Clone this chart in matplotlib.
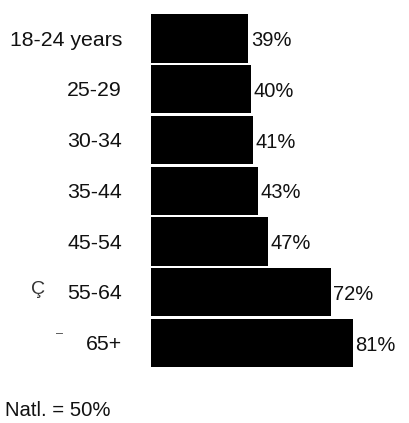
import numpy as np
import matplotlib.pyplot as plt

plt.rcParams['font.family'] = ['Liberation Sans', 'DejaVu Sans']

ages = ['18-24 years', '25-29', '30-34', '35-44', '45-54', '55-64', '65+']
pct = [39, 40, 41, 43, 47, 72, 81]
note = 'Natl. = 50%'

W, H = 409, 423
fig = plt.figure(figsize=(W / 100, H / 100), dpi=100)
# axes from bar baseline to right edge of figure
ax = fig.add_axes([151 / W, 0, 1 - 151 / W, 1])
pxper = 2.494  # pixels per percent
ax.set_xlim(0, (W - 151) / pxper)
pitch = 50.75
ax.set_ylim((H - 38.5) / pitch, -38.5 / pitch)
ax.axis('off')

y = np.arange(len(ages))
ax.barh(y, pct, height=0.946, color='black')
for i, v in enumerate(pct):
    ax.text(v + 2.5 / pxper, i + 0.04, '%d%%' % v, ha='left', va='center',
            fontsize=14.5, color='#111111')
    ax.text(-29 / pxper, i + 0.03, ages[i], ha='right', va='center',
            fontsize=15.3, color='#111111')

fig.text(5 / W, 1 - 410 / H, note, ha='left', va='center', fontsize=14.6,
         color='#111111')
# scan specks next to the last two labels
fig.text(38 / W, 1 - 289 / H, 'Ç', ha='center', va='center', fontsize=14,
         color='#333333')
fig.text(59 / W, 1 - 334 / H, '–', ha='center', va='center', fontsize=9,
         color='#444444')

fig.savefig('out.png', dpi=100)
